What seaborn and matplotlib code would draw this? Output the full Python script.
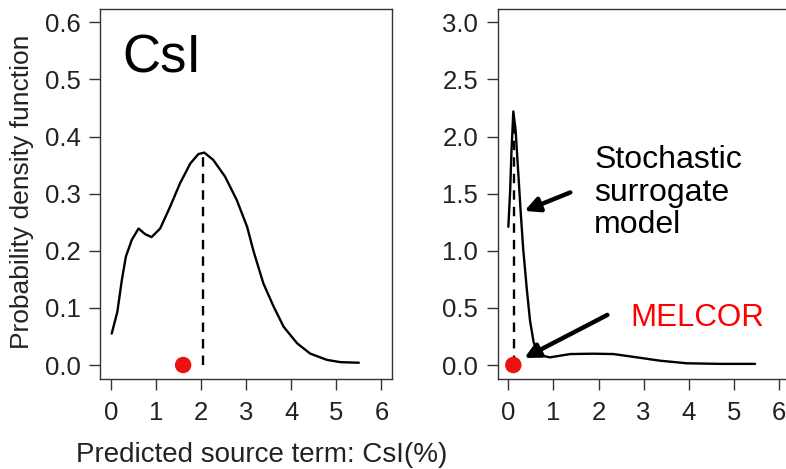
import matplotlib
matplotlib.use("Agg")
import matplotlib.pyplot as plt
import seaborn as sns
import pandas as pd

# ---- data ----
left_x = [0.015, 0.14, 0.24, 0.33, 0.46, 0.61, 0.76, 0.90, 1.09, 1.31, 1.53, 1.76, 1.94, 2.07,
          2.27, 2.53, 2.79, 3.02, 3.16, 3.38, 3.61, 3.83, 4.13, 4.42, 4.79, 5.09, 5.50]
left_y = [0.055, 0.093, 0.149, 0.190, 0.219, 0.239, 0.229, 0.224, 0.239, 0.277, 0.318, 0.353, 0.3695, 0.372,
          0.359, 0.330, 0.289, 0.242, 0.200, 0.143, 0.102, 0.067, 0.038, 0.020, 0.009, 0.005, 0.004]
left_melcor = 1.6
left_mode_x, left_mode_y = 2.05, 0.372

right_x = [0.0, 0.04, 0.07, 0.11, 0.16, 0.22, 0.27, 0.33, 0.41, 0.48, 0.56, 0.67, 0.92, 1.37,
           1.88, 2.33, 2.85, 3.36, 3.96, 4.70, 5.47]
right_y = [1.21, 1.53, 1.88, 2.22, 2.06, 1.68, 1.36, 1.01, 0.66, 0.39, 0.20, 0.088, 0.067, 0.096,
           0.099, 0.096, 0.067, 0.038, 0.015, 0.010, 0.010]
right_melcor = 0.11
right_mode_x, right_mode_y = 0.12, 2.1

x_ticks = [0, 1, 2, 3, 4, 5, 6]
left_yticks = [0.0, 0.1, 0.2, 0.3, 0.4, 0.5, 0.6]
right_yticks = [0.0, 0.5, 1.0, 1.5, 2.0, 2.5, 3.0]

sns.set_theme(style="ticks")
plt.rcParams['font.family'] = ['Liberation Sans', 'DejaVu Sans']

fig = plt.figure(figsize=(7.86, 4.69), dpi=100)
axL = fig.add_axes([0.1275, 0.1925, 0.3715, 0.789])
axR = fig.add_axes([0.633, 0.1925, 0.3718, 0.789])

def style(ax, yticks, fmt):
    ax.set_xlim(-0.24, 6.24)
    ax.set_xticks(x_ticks)
    ax.set_xticklabels([str(t) for t in x_ticks])
    ax.set_yticks(yticks)
    ax.set_yticklabels([fmt.format(t) for t in yticks])
    lo, hi = yticks[0], yticks[-1]
    ax.set_ylim(lo - 0.04 * (hi - lo), hi + 0.04 * (hi - lo))
    ax.tick_params(axis='both', direction='out', length=8, width=1, labelsize=18.5,
                   colors='#333333', labelcolor='#222222')
    ax.tick_params(axis='y', pad=6)
    ax.tick_params(axis='x', pad=8)
    for s in ax.spines.values():
        s.set_visible(True)
        s.set_linewidth(1.0)
        s.set_color('#333333')
    ax.set_xlabel('')
    ax.set_ylabel('')

dfL = pd.DataFrame({'x': left_x, 'y': left_y})
sns.lineplot(data=dfL, x='x', y='y', ax=axL, color='black', linewidth=1.7)
axL.plot([left_mode_x, left_mode_x], [0, left_mode_y], color='black', linestyle=(0, (4, 3)), linewidth=1.7)
sns.scatterplot(x=[left_melcor], y=[0.0], ax=axL, color='#ee1111', s=140, edgecolor='none', zorder=5)
style(axL, left_yticks, "{:.1f}")
axL.text(0.25, 0.513, 'CsI', fontsize=38, color='black', ha='left', va='baseline')

dfR = pd.DataFrame({'x': right_x, 'y': right_y})
sns.lineplot(data=dfR, x='x', y='y', ax=axR, color='black', linewidth=1.7)
axR.plot([right_mode_x, right_mode_x], [0, right_mode_y], color='black', linestyle=(0, (4, 3)), linewidth=1.7)
sns.scatterplot(x=[right_melcor], y=[0.0], ax=axR, color='#ee1111', s=140, edgecolor='none', zorder=5)
style(axR, right_yticks, "{:.1f}")

axR.text(1.9, 1.51, 'Stochastic\nsurrogate\nmodel', fontsize=23, color='black', ha='left', va='center',
         linespacing=1.1)
axR.text(2.7, 0.41, 'MELCOR', fontsize=22.5, color='#ff0000', ha='left', va='center')
axR.annotate('', xy=(0.30, 1.34), xytext=(1.43, 1.52),
             arrowprops=dict(arrowstyle='-|>', color='black', lw=3.2, mutation_scale=22))
axR.annotate('', xy=(0.30, 0.05), xytext=(2.25, 0.45),
             arrowprops=dict(arrowstyle='-|>', color='black', lw=3.2, mutation_scale=22))

fig.text(0.028, 0.59, 'Probability density function', rotation=90, fontsize=19,
         ha='center', va='center', color='#222222')
fig.text(0.333, 0.030, 'Predicted source term: CsI(%)', fontsize=20,
         ha='center', va='center', color='#222222')

fig.savefig('out.png', dpi=100)
